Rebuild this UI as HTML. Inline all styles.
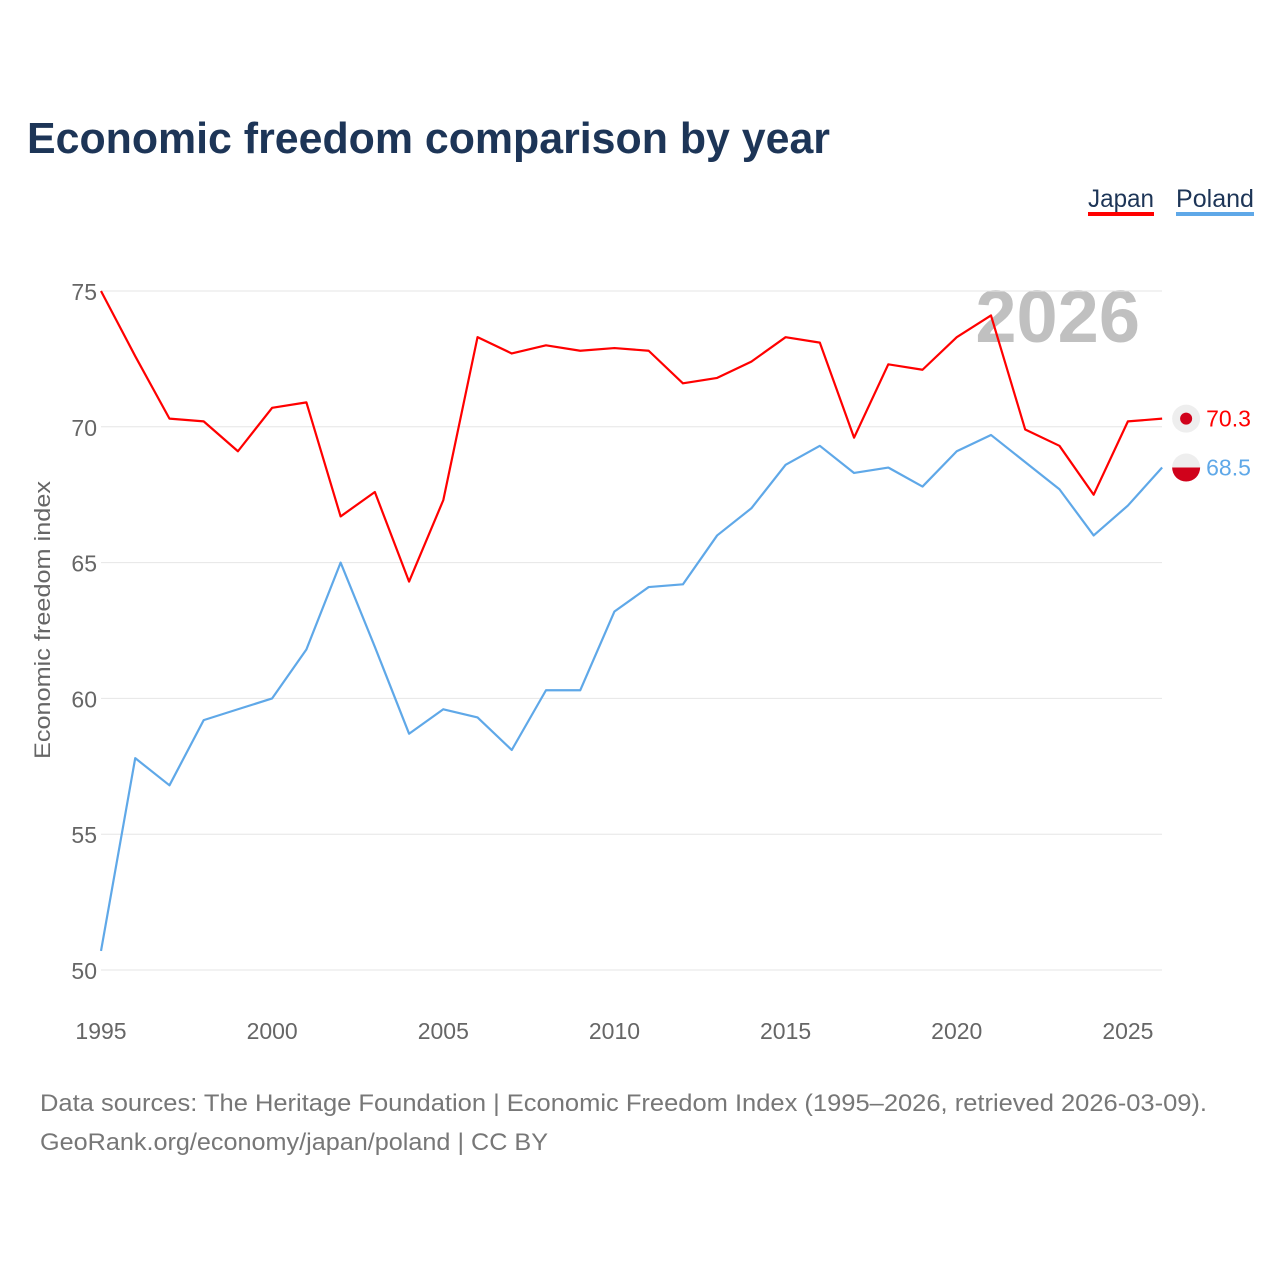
<!DOCTYPE html>
<html><head><meta charset="utf-8"><style>
body{margin:0;background:#fff;font-family:"Liberation Sans",sans-serif;}
#wrap{position:relative;width:1280px;height:1280px;}
</style></head><body>
<div id="wrap">
<svg id="chart" width="1280" height="1280" xmlns="http://www.w3.org/2000/svg">
<text x="27" y="153" font-size="44" font-weight="bold" fill="#1d3557" textLength="803" lengthAdjust="spacingAndGlyphs">Economic freedom comparison by year</text>
<g><text x="1088" y="207" font-size="25" fill="#1d3557" textLength="66" lengthAdjust="spacingAndGlyphs">Japan</text><rect x="1088" y="212" width="66" height="4" fill="#ff0000"/></g>
<g><text x="1176" y="207" font-size="25" fill="#1d3557" textLength="78" lengthAdjust="spacingAndGlyphs">Poland</text><rect x="1176" y="212" width="78" height="4" fill="#5fa8e8"/></g>
<text x="1140" y="342" font-size="74" font-weight="bold" fill="#c0c0c0" text-anchor="end">2026</text>
<text transform="translate(50,620) rotate(-90)" font-size="22" fill="#666" text-anchor="middle" textLength="278" lengthAdjust="spacingAndGlyphs">Economic freedom index</text>
<g id="grid"></g><g id="series"></g>
<text x="40" y="1111" font-size="24" fill="#777" textLength="1167" lengthAdjust="spacingAndGlyphs">Data sources: The Heritage Foundation | Economic Freedom Index (1995–2026, retrieved 2026-03-09).</text>
<text x="40" y="1150" font-size="24" fill="#777" textLength="508" lengthAdjust="spacingAndGlyphs">GeoRank.org/economy/japan/poland | CC BY</text>
</svg></div>
<script>
const years=[1995,1996,1997,1998,1999,2000,2001,2002,2003,2004,2005,2006,2007,2008,2009,2010,2011,2012,2013,2014,2015,2016,2017,2018,2019,2020,2021,2022,2023,2024,2025,2026];
const japan=[75.0,72.6,70.3,70.2,69.1,70.7,70.9,66.7,67.6,64.3,67.3,73.3,72.7,73.0,72.8,72.9,72.8,71.6,71.8,72.4,73.3,73.1,69.6,72.3,72.1,73.3,74.1,69.9,69.3,67.5,70.2,70.3];
const poland=[50.7,57.8,56.8,59.2,59.6,60.0,61.8,65.0,61.9,58.7,59.6,59.3,58.1,60.3,60.3,63.2,64.1,64.2,66.0,67.0,68.6,69.3,68.3,68.5,67.8,69.1,69.7,68.7,67.7,66.0,67.1,68.5];
const yTicks=[50,55,60,65,70,75];
const xTicks=[1995,2000,2005,2010,2015,2020,2025];
const NS="http://www.w3.org/2000/svg";
const X=y=>101+(y-1995)*34.23;
const Y=v=>970-(v-50)*27.16;
const grid=document.getElementById('grid'),ser=document.getElementById('series');
function mk(tag,at,p){const e=document.createElementNS(NS,tag);for(const k in at)e.setAttribute(k,at[k]);p.appendChild(e);return e;}
yTicks.forEach(t=>{
 const l=mk('line',{x1:101,x2:1162,y1:Y(t),y2:Y(t),stroke:'#e6e6e6','stroke-width':1},grid);
 
 
 const tx=mk('text',{x:97,y:Y(t)+9,'font-size':23,fill:'#666','text-anchor':'end'},grid);tx.textContent=t;
 
 
});
xTicks.forEach(t=>{
 const tx=mk('text',{x:X(t),y:1039,'font-size':23,fill:'#666','text-anchor':'middle'},grid);tx.textContent=t;
 
 
});
function line(vals,color,name){
 const p=mk('polyline',{points:vals.map((v,i)=>X(years[i])+','+Y(v)).join(' '),fill:'none',stroke:color,'stroke-width':2.2,'stroke-linejoin':'round'},ser);
 
 
}
line(japan,'#ff0000','japan-line');
line(poland,'#5fa8e8','poland-line');
const lj=japan[japan.length-1],lp=poland[poland.length-1],lx=X(years[years.length-1]);
const fj=mk('g',{},ser);


mk('circle',{cx:lx+24,cy:Y(lj),r:14,fill:'#eee'},fj);
mk('circle',{cx:lx+24,cy:Y(lj),r:6,fill:'#d0021b'},fj);
const tj=mk('text',{x:lx+44,y:Y(lj)+8,'font-size':23,fill:'#ff0000'},ser);tj.textContent=lj.toFixed(1);


const fp=mk('g',{},ser);


const cy=Y(lp);
mk('path',{d:`M${lx+10},${cy} A14,14 0 0 1 ${lx+38},${cy} Z`,fill:'#eee'},fp);
mk('path',{d:`M${lx+10},${cy} A14,14 0 0 0 ${lx+38},${cy} Z`,fill:'#d0021b'},fp);
const tp=mk('text',{x:lx+44,y:cy+8,'font-size':23,fill:'#5fa8e8'},ser);tp.textContent=lp.toFixed(1);


</script>
</body></html>
